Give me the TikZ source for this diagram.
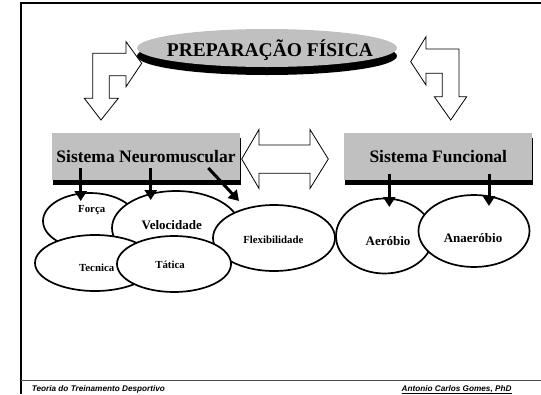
\documentclass[tikz,border=0pt]{standalone}
\usepackage{fontspec}
\setmainfont{Liberation Serif}
\newfontfamily\footfont{Liberation Sans}
\usetikzlibrary{arrows.meta,shapes.geometric,shadows}

\definecolor{panelgray}{HTML}{C0C0C0}

\tikzset{
  frameline/.style={line width=2.2pt,black},
  hollowarrow/.style={draw=black,fill=white,line width=0.8pt,line join=miter},
  titleoval/.style={ellipse,fill=panelgray,inner sep=0pt,
    drop shadow={shadow xshift=0pt,shadow yshift=-8pt,fill=black,opacity=1}},
  sysbox/.style={rectangle,fill=panelgray,inner sep=0pt,
    drop shadow={shadow xshift=1pt,shadow yshift=-5pt,fill=black,opacity=1},
    font=\fontsize{17.5}{20}\selectfont\bfseries},
  oval/.style={ellipse,draw=black,fill=white,line width=1.7pt,inner sep=0pt},
  ovaltext/.style={font=\fontsize{10.8}{13}\selectfont\bfseries,inner sep=0pt},
  ovaltextbig/.style={font=\fontsize{13}{15}\selectfont\bfseries,inner sep=0pt},
  pointer/.style={line width=3pt,-{Triangle[length=10pt,width=12pt]}},
  foottext/.style={font=\footfont\fontsize{8.2}{10}\selectfont\bfseries\itshape,inner sep=0pt}
}

\begin{document}
\begin{tikzpicture}[x=1pt,y=-1pt]
\useasboundingbox (0,0) rectangle (541,394);

% slide frame
\draw[frameline] (21,394) -- (21,3) -- (541,3);
\draw[line width=0.6pt,black!70] (21,380) -- (541,380);

% title
\node[titleoval,minimum width=260pt,minimum height=38pt] (title) at (267,48) {};
\node[font=\fontsize{19.5}{22}\selectfont\bfseries] (titletext) at (270,50) {PREPARAÇÃO FÍSICA};

% bent hollow arrows from the title
\draw[hollowarrow] (92.7,53.3) -- (126,53.3) -- (126,41.7) -- (141.7,63.3) -- (126,86.7)
  -- (126,75.7) -- (109.3,75.7) -- (109.3,98.3) -- (118.3,98.3) -- (101,120)
  -- (84.3,98.3) -- (92.7,98.3) -- cycle;
\draw[hollowarrow] (410.7,61.7) -- (426,36.7) -- (426,49) -- (459,49) -- (459,96.7)
  -- (466.7,96.7) -- (450.7,120) -- (434.3,96.7) -- (442.3,96.7) -- (442.3,73.3)
  -- (426,73.3) -- (426,85) -- cycle;

% the two systems
\node[sysbox,minimum width=188pt,minimum height=47pt] (neuro) at (146,156.5) {Sistema Neuromuscular};
\node[sysbox,minimum width=188pt,minimum height=47pt] (func) at (438.3,156.7) {Sistema Funcional};

% double hollow arrow between the systems
\draw[hollowarrow] (241.7,159) -- (259,129.5) -- (259,145) -- (310,145) -- (310,129.5)
  -- (328.3,159) -- (310,188.5) -- (310,173.3) -- (259,173.3) -- (259,188.5) -- cycle;

% neuromuscular capacities
\node[oval,minimum width=94pt,minimum height=56pt] (forca) at (90,221) {};
\node[ovaltext] (forcat) at (91.7,210) {Força};
\node[oval,minimum width=128pt,minimum height=74pt] (veloc) at (176,228) {};
\node[ovaltextbig] (veloct) at (171.7,225) {Velocidade};
\node[oval,minimum width=122pt,minimum height=66pt] (flex) at (274,238) {};
\node[ovaltext] (flext) at (273.3,240) {Flexibilidade};
\node[oval,minimum width=120pt,minimum height=56pt] (tecn) at (95,263) {};
\node[ovaltext] (tecnt) at (96.7,268) {Tecnica};
\node[oval,minimum width=114pt,minimum height=56pt] (tati) at (174,264) {};
\node[ovaltext] (tatit) at (170,265) {Tática};

% functional capacities
\node[oval,minimum width=97pt,minimum height=75pt] (aero) at (384.5,236) {};
\node[ovaltextbig] (aerot) at (388,241.5) {Aeróbio};
\node[oval,minimum width=111pt,minimum height=72pt] (anae) at (474,231) {};
\node[ovaltextbig] (anaet) at (473,238) {Anaeróbio};

% pointers from the systems to their capacities
\coordinate (p1) at (80.7,168);
\coordinate (p2) at (150.7,168);
\coordinate (p3) at (208.3,168);
\coordinate (p4) at (389.3,174);
\coordinate (p5) at (489,174);
\coordinate (t1) at (80.7,201);
\coordinate (t2) at (150.7,200);
\coordinate (t3) at (239,201);
\coordinate (t4) at (389.3,207);
\coordinate (t5) at (489,206);
\draw[pointer] (p1) -- (t1);
\draw[pointer] (p2) -- (t2);
\draw[pointer] (p3) -- (t3);
\draw[pointer] (p4) -- (t4);
\draw[pointer] (p5) -- (t5);

% footer
\node[foottext,anchor=base west] (footl) at (31.7,391) {Teoria do Treinamento Desportivo};
\node[foottext,anchor=base east] (footr) at (511.7,391) {\underline{Antonio Carlos Gomes, PhD}};
\end{tikzpicture}
\end{document}
